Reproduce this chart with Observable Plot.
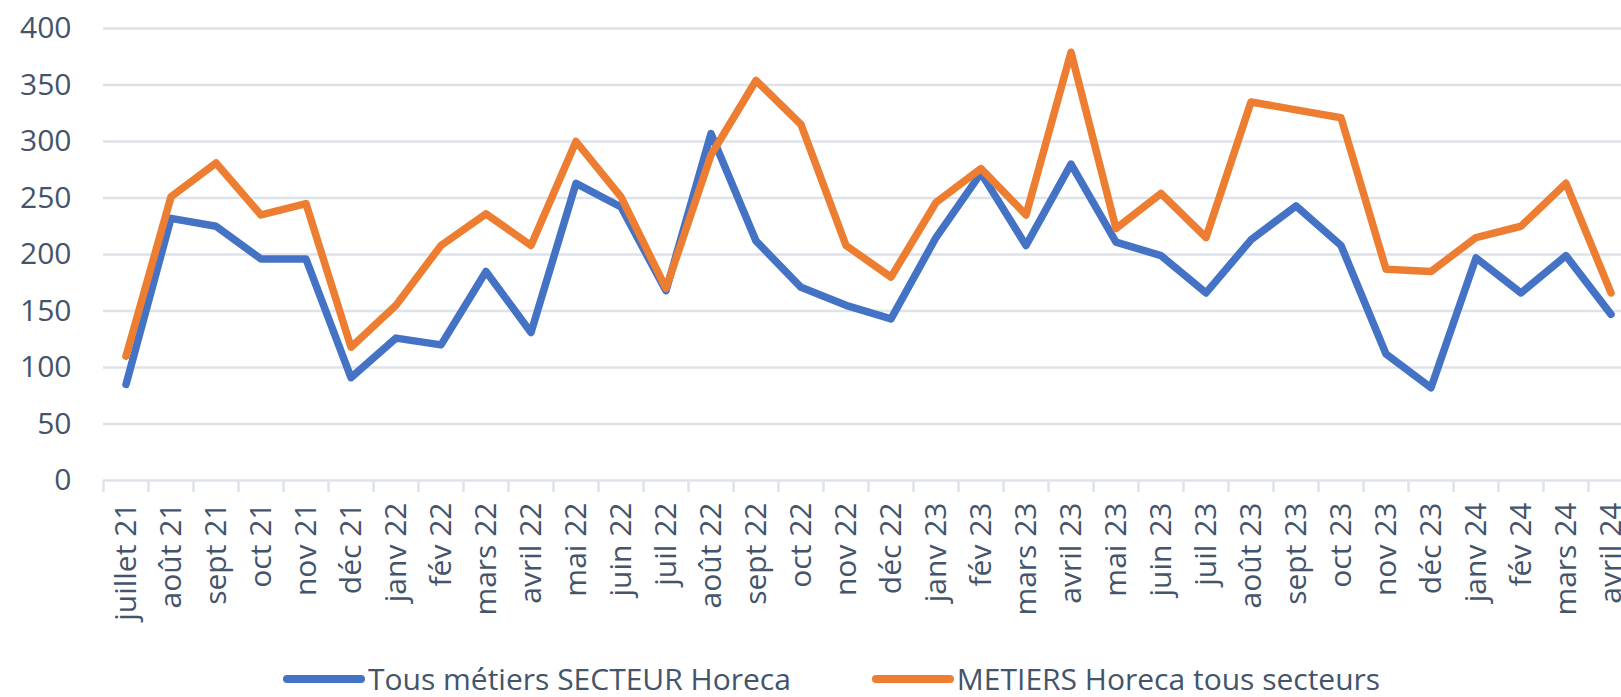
<!DOCTYPE html>
<html>
<head>
<meta charset="utf-8">
<script src="https://cdn.jsdelivr.net/npm/d3@7"></script>
<script src="https://cdn.jsdelivr.net/npm/@observablehq/plot@0.6"></script>
<style>
  html, body { margin: 0; padding: 0; background: #fff; }
  #wrap { position: relative; width: 1621px; height: 697px; overflow: hidden; font-family: "Open Sans", sans-serif; }
  #legend { position: absolute; left: 283px; top: 664px; height: 30px; display: flex; align-items: center; color: #44546A; font-size: 30px; line-height: 1; white-space: nowrap; }
  .item { display: flex; align-items: center; line-height: 1; }
  .swatch { width: 82px; height: 8px; border-radius: 4px; margin-right: 3px; }
  .gap { width: 81px; }
</style>
</head>
<body>
<div id="wrap"><div id="chart"></div><div id="legend"></div></div>
<script>
const months = ["juillet 21","août 21","sept 21","oct 21","nov 21","déc 21","janv 22","fév 22","mars 22","avril 22","mai 22","juin 22","juil 22","août 22","sept 22","oct 22","nov 22","déc 22","janv 23","fév 23","mars 23","avril 23","mai 23","juin 23","juil 23","août 23","sept 23","oct 23","nov 23","déc 23","janv 24","fév 24","mars 24","avril 24"];
const seriesNames = ["Tous métiers SECTEUR Horeca", "METIERS Horeca tous secteurs"];
const secteurHoreca = [85,232,225,196,196,91,126,120,185,131,263,242,168,307,212,171,155,143,215,272,208,280,211,199,166,213,243,208,112,82,197,166,199,147];
const metiersHoreca = [110,251,281,235,245,118,155,208,236,208,300,251,170,288,354,315,208,180,246,276,235,379,223,254,215,335,328,321,187,185,215,225,263,166];
const yTicks = [0,50,100,150,200,250,300,350,400];
const colors = ["#4472C4", "#ED7D31"];

const gridColor = "#DEE3EA";
const textColor = "#44546A";

const data = [];
[secteurHoreca, metiersHoreca].forEach((vals, s) => {
  vals.forEach((v, i) => data.push({i, value: v, series: seriesNames[s]}));
});
const boundaries = d3.range(months.length + 1).map(k => k - 0.5);

const chart = Plot.plot({
  width: 1621,
  height: 650,
  marginLeft: 103,
  marginRight: 0,
  marginTop: 28,
  marginBottom: 170,
  style: {fontFamily: "Open Sans, sans-serif", fontSize: "30px", background: "#fff", overflow: "visible"},
  x: {domain: [-0.5, months.length - 0.5], range: [103, 103 + 45 * months.length]},
  y: {domain: [0, 400], range: [480, 28]},
  color: {domain: seriesNames, range: colors},
  marks: [
    Plot.gridY({ticks: yTicks, stroke: gridColor, strokeOpacity: 1, strokeWidth: 2.5}),
    Plot.axisY({ticks: yTicks, tickSize: 0, tickPadding: 32, label: null, fill: textColor, fontSize: 30}),
    Plot.axisX({ticks: boundaries, tickFormat: () => "", tickSize: 12, stroke: gridColor, strokeWidth: 2.5, label: null}),
    Plot.axisX({ticks: d3.range(months.length), tickFormat: i => months[i], tickRotate: -90, tickSize: 0, tickPadding: 22, label: null, fill: textColor, fontSize: 30}),
    Plot.line(data, {x: "i", y: "value", z: "series", stroke: "series", strokeWidth: 7.5, strokeLinejoin: "round", strokeLinecap: "round"})
  ]
});
document.getElementById("chart").appendChild(chart);

const legend = document.getElementById("legend");
seriesNames.forEach((name, s) => {
  if (s > 0) { const g = document.createElement("div"); g.className = "gap"; legend.appendChild(g); }
  const item = document.createElement("div");
  item.className = "item";
  const sw = document.createElement("div");
  sw.className = "swatch";
  sw.style.background = colors[s];
  const t = document.createElement("span");
  t.textContent = name;
  item.appendChild(sw); item.appendChild(t);
  legend.appendChild(item);
});
</script>
</body>
</html>
